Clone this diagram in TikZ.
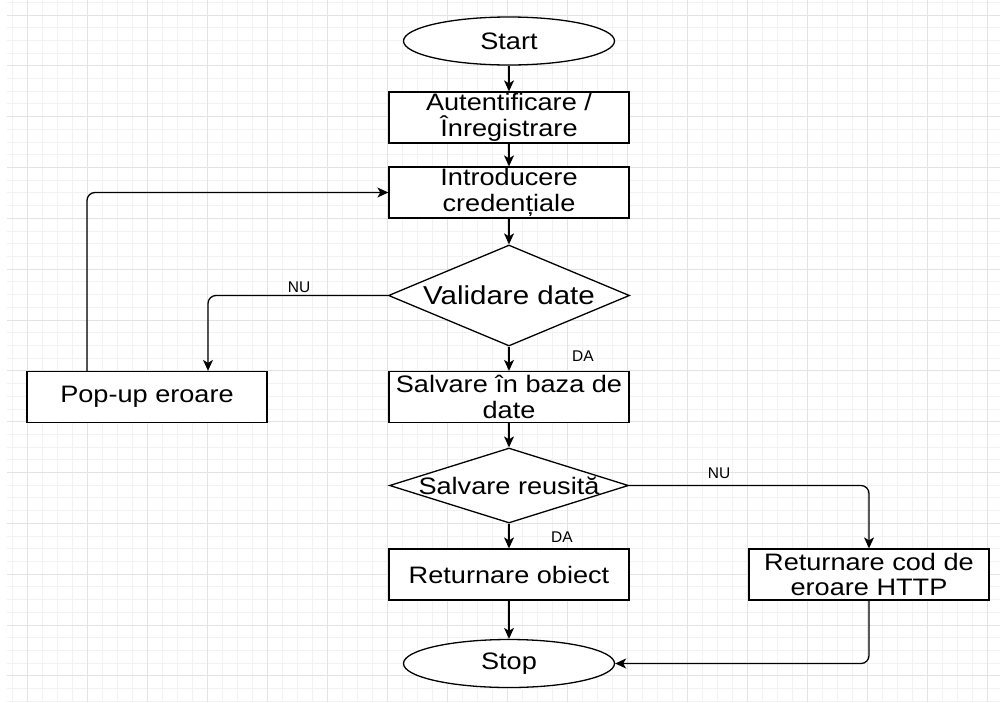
\documentclass[tikz,border=0pt]{standalone}
\usepackage{fontspec}
\setmainfont{Liberation Sans}[FakeStretch=1.14]
\newfontfamily\lblfamily{Liberation Sans}
\usetikzlibrary{shapes.geometric,arrows.meta,calc}

\begin{document}
\begin{tikzpicture}[x=1pt,y=-1pt,
  gridminor/.style={draw=black!5,line width=1pt},
  gridmajor/.style={draw=black!11,line width=1pt},
  box/.style={draw=black,line width=1.3pt,fill=white,minimum width=240pt,minimum height=51pt,
    inner sep=0pt,align=center,font=\fontsize{23.8}{25.5}\selectfont},
  term/.style={draw=black,ellipse,line width=1.3pt,fill=white,minimum width=211pt,minimum height=48pt,
    inner sep=0pt,font=\fontsize{23.8}{25.5}\selectfont},
  decision/.style={draw=black,diamond,line width=1.3pt,fill=white,inner sep=0pt},
  dtxt/.style={inner sep=0pt,font=\fontsize{23.8}{25.5}\selectfont},
  flow/.style={draw=black,line width=1.3pt,rounded corners=8pt,
    -{Stealth[length=11pt,width=10pt,inset=3pt]}},
  lbl/.style={inner sep=0pt,font=\lblfamily\fontsize{15.5}{16}\selectfont},
]
\useasboundingbox (0,0) rectangle (1000,702);
\fill[white] (0,0) rectangle (1000,702);

% background grid: fine lines every 15 x 12.71, heavier every fourth
\begin{scope}
  \clip (7,0) rectangle (1000,702);
  \foreach \i in {-2,...,66} \draw[gridminor] (27+15*\i,0) -- (27+15*\i,702);
  \foreach \j in {-2,...,55} \draw[gridminor] (7,15+12.71*\j) -- (1000,15+12.71*\j);
  \foreach \i in {0,...,16} \draw[gridmajor] (27+60*\i,0) -- (27+60*\i,702);
  \foreach \j in {0,...,13} \draw[gridmajor] (7,15+50.84*\j) -- (1000,15+50.84*\j);
\end{scope}

% process steps
\node[term] (start) at (509,41) {Start};
\node[box] (auth) at (509,117.5) {Autentificare /\\Înregistrare};
\node[box] (cred) at (509,192.5) {Introducere\\credențiale};
\node[decision,minimum width=241pt,minimum height=101pt] (valid) at (509,295.5) {};
\node[dtxt,font=\fontsize{25.9}{27}\selectfont] (validtxt) at (valid) {Validare date};
\node[box] (save) at (509,397) {Salvare în baza de\\date};
\node[box] (popup) at (147,397) {Pop-up eroare};
\node[decision,minimum width=239pt,minimum height=75pt] (ok) at (509,485.5) {};
\node[dtxt] (oktxt) at (ok) {Salvare reusită};
\node[box] (obj) at (509,574.5) {Returnare obiect};
\node[box] (http) at (869,574.5) {Returnare cod de\\eroare HTTP};
\node[term] (stop) at (509,663.5) {Stop};

% connectors
\draw[flow] (start) -- (auth);
\draw[flow] (auth) -- (cred);
\draw[flow] (cred) -- (valid);
\draw[flow] (valid.west) -| ($(popup.north)+(61,0)$);
\draw[flow] ($(popup.north)+(-60,0)$) |- (cred.west);
\draw[flow] (valid) -- (save);
\draw[flow] (save) -- (ok);
\draw[flow] (ok) -- (obj);
\draw[flow] (ok.east) -| (http.north);
\draw[flow] (obj) -- (stop);
\draw[flow] (http.south) |- (stop.east);

% branch labels
\node[lbl] (nu1) at (299,287) {NU};
\node[lbl] (da1) at (583,356) {DA};
\node[lbl] (nu2) at (719,473) {NU};
\node[lbl] (da2) at (562,537) {DA};
\end{tikzpicture}
\end{document}
